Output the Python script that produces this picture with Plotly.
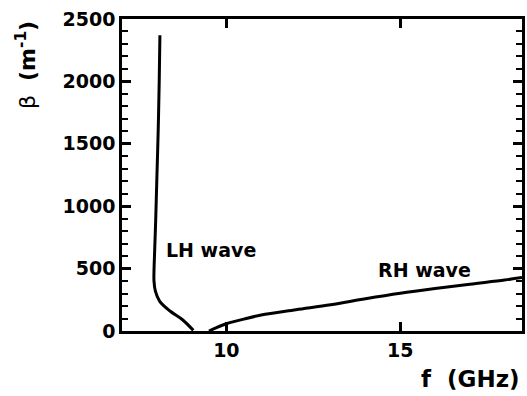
import plotly.graph_objects as go

# LH wave branch (f in GHz, beta in 1/m)
lh_f = [8.09, 8.07, 8.04, 8.00, 7.97, 7.94, 7.92, 7.92, 7.96, 8.08, 8.38, 8.74, 9.05]
lh_beta = [2370, 2000, 1600, 1200, 900, 650, 480, 400, 320, 240, 160, 90, 5]

# RH wave branch
rh_f = [9.5, 9.7, 9.9, 10.0, 10.5, 11.0, 12.0, 13.0, 14.0, 15.0, 16.0, 17.0, 18.0, 18.5]
rh_beta = [0, 25, 48, 58, 95, 128, 170, 210, 258, 302, 340, 375, 408, 428]

FONT = "DejaVu Sans"
fig = go.Figure()
fig.add_trace(go.Scatter(x=lh_f, y=lh_beta, mode="lines", line=dict(color="black", width=3, shape="spline"), showlegend=False))
fig.add_trace(go.Scatter(x=rh_f, y=rh_beta, mode="lines", line=dict(color="black", width=3, shape="spline"), showlegend=False))

tf = dict(family=FONT, size=19, color="black")
fig.update_xaxes(range=[7, 18.5], tickmode="linear", tick0=10, dtick=5,
                 showgrid=False, zeroline=False, showline=True, linecolor="black", linewidth=2.5,
                 mirror="ticks", ticks="inside", ticklen=9, tickwidth=2.5, tickcolor="black",
                 tickfont=tf, tickprefix="<b>", ticksuffix="</b>")
fig.update_yaxes(range=[0, 2500], tickmode="linear", tick0=0, dtick=500,
                 showgrid=False, zeroline=False, showline=True, linecolor="black", linewidth=2.5,
                 mirror="allticks", ticks="inside", ticklen=9, tickwidth=2.5, tickcolor="black",
                 tickfont=tf, tickprefix="<b>", ticksuffix="</b>",
                 minor=dict(ticks="inside", ticklen=6, tickwidth=2, dtick=100, tickcolor="black", showgrid=False))

fig.add_annotation(x=1.0, xref="paper", y=-0.105, yref="paper", xanchor="right", yanchor="top",
                   text="<b>f  (GHz)</b>", showarrow=False, font=dict(family=FONT, size=23, color="black"))
fig.add_annotation(x=-0.24, xref="paper", y=1.0, yref="paper", xanchor="center", yanchor="top",
                   text="β  <b>(m<sup>-1</sup>)</b>", textangle=-90, showarrow=False,
                   font=dict(family=FONT, size=22, color="black"))
fig.add_annotation(x=8.22, y=650, xanchor="left", yanchor="middle", text="<b>LH wave</b>", showarrow=False,
                   font=dict(family=FONT, size=19, color="black"))
fig.add_annotation(x=14.3, y=485, xanchor="left", yanchor="middle", text="<b>RH wave</b>", showarrow=False,
                   font=dict(family=FONT, size=19, color="black"))

fig.update_layout(width=527, height=396, margin=dict(l=122, r=2, t=19, b=65),
                  plot_bgcolor="white", paper_bgcolor="white")
fig.write_html("out.html", config={"displayModeBar": False},
               post_script="document.body.style.margin='0';")
